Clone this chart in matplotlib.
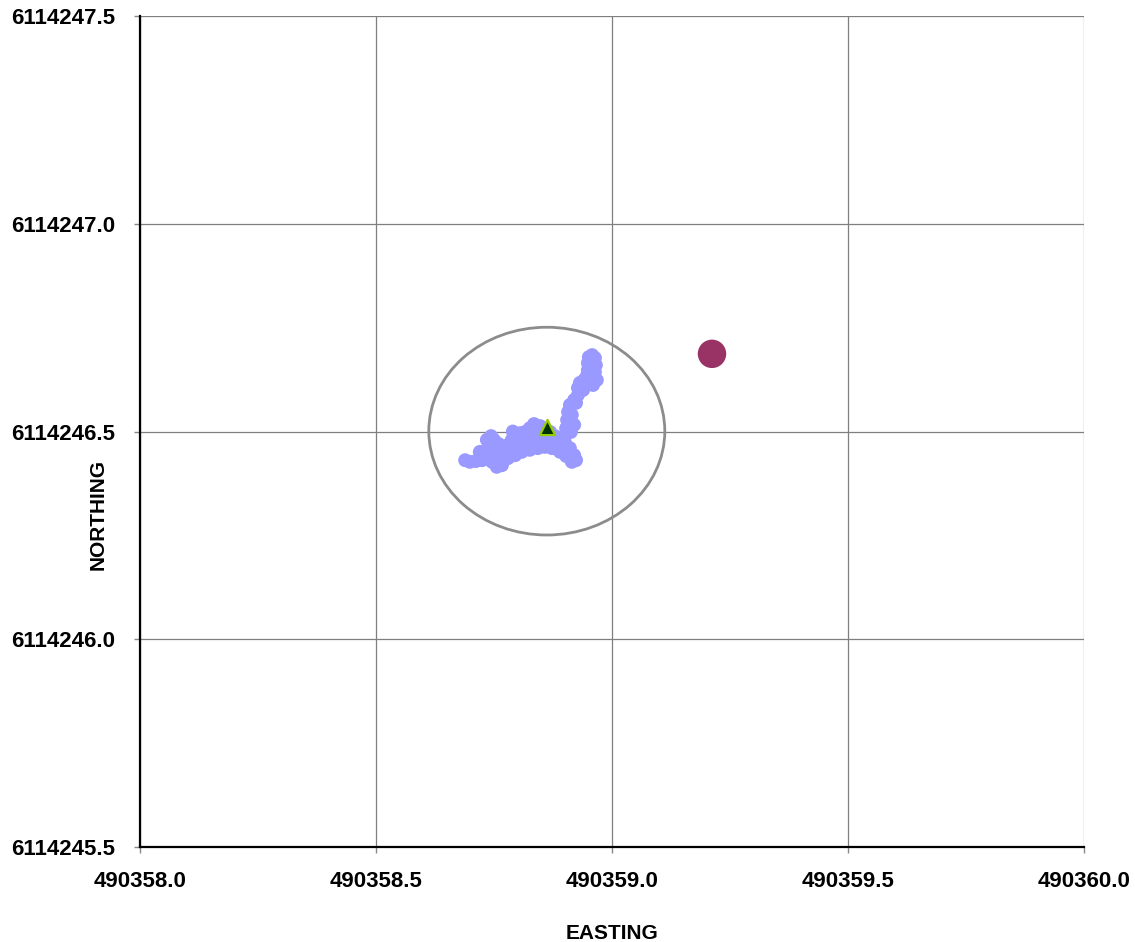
import matplotlib.pyplot as plt
from matplotlib.patches import Circle
from matplotlib.ticker import FormatStrFormatter

plt.rcParams['font.family'] = ['Liberation Sans', 'DejaVu Sans']
plt.rcParams['font.weight'] = 'bold'

# GPS track (easting / northing)
track_e = [
    490358.689, 490358.699, 490358.712, 490358.725, 490358.733, 490358.737,
    490358.735, 490358.744, 490358.750, 490358.754, 490358.759, 490358.763,
    490358.769, 490358.775, 490358.780, 490358.788, 490358.795, 490358.805,
    490358.816, 490358.826, 490358.835, 490358.848, 490358.858, 490358.869,
    490358.879, 490358.890, 490358.900, 490358.911, 490358.920, 490358.924,
    490358.915, 490358.903, 490358.890, 490358.873, 490358.858, 490358.843,
    490358.826, 490358.809, 490358.795, 490358.780, 490358.767, 490358.756,
    490358.746, 490358.737, 490358.731, 490358.720, 490358.801, 490358.822,
    490358.843, 490358.864, 490358.886, 490358.903, 490358.816, 490358.773,
    490358.900, 490358.903, 490358.905, 490358.907, 490358.911, 490358.920,
    490358.928, 490358.928, 490358.932, 490358.941, 490358.947, 490358.949,
    490358.949, 490358.951, 490358.958, 490358.964, 490358.966, 490358.964,
    490358.968, 490358.960, 490358.953, 490358.939, 490358.924, 490358.915,
    490358.920, 490358.913, 490358.790, 490358.810, 490358.830, 490358.850,
    490358.870, 490358.895, 490358.760, 490358.745,
]
track_n = [
    6114246.431, 6114246.427, 6114246.429, 6114246.431, 6114246.441, 6114246.460,
    6114246.480, 6114246.489, 6114246.480, 6114246.460, 6114246.443, 6114246.427,
    6114246.436, 6114246.451, 6114246.468, 6114246.480, 6114246.489, 6114246.496,
    6114246.499, 6114246.508, 6114246.518, 6114246.513, 6114246.504, 6114246.499,
    6114246.489, 6114246.484, 6114246.475, 6114246.460, 6114246.443, 6114246.431,
    6114246.427, 6114246.441, 6114246.451, 6114246.460, 6114246.463, 6114246.460,
    6114246.456, 6114246.451, 6114246.443, 6114246.436, 6114246.419, 6114246.415,
    6114246.427, 6114246.436, 6114246.451, 6114246.451, 6114246.468, 6114246.480,
    6114246.484, 6114246.480, 6114246.468, 6114246.463, 6114246.468, 6114246.463,
    6114246.489, 6114246.508, 6114246.528, 6114246.547, 6114246.564, 6114246.576,
    6114246.588, 6114246.605, 6114246.617, 6114246.624, 6114246.634, 6114246.648,
    6114246.665, 6114246.679, 6114246.684, 6114246.677, 6114246.660, 6114246.643,
    6114246.624, 6114246.612, 6114246.643, 6114246.600, 6114246.569, 6114246.540,
    6114246.516, 6114246.499, 6114246.500, 6114246.492, 6114246.495, 6114246.490,
    6114246.470, 6114246.455, 6114246.470, 6114246.470,
]

mean_e, mean_n = 490358.862, 6114246.511
ref_e, ref_n = 490359.212, 6114246.687
circle_center = (490358.862, 6114246.501)
circle_radius = 0.25

x_ticks = [490358.0, 490358.5, 490359.0, 490359.5, 490360.0]
y_ticks = [6114245.5, 6114246.0, 6114246.5, 6114247.0, 6114247.5]

fig = plt.figure(figsize=(11.35, 9.42), dpi=100)
ax = fig.add_axes([0.1233, 0.1008, 0.8317, 0.8822])

ax.scatter(track_e, track_n, s=100, color='#9999ff', edgecolors='none', zorder=3)
ax.scatter([mean_e], [mean_n], marker='^', s=120, color='#003300',
           edgecolors='#99cc00', linewidths=1.6, zorder=4)
ax.scatter([ref_e], [ref_n], s=420, color='#993366', edgecolors='none', zorder=3)

ax.add_patch(Circle(circle_center, circle_radius, fill=False,
                    edgecolor='#8c8c8c', linewidth=2, zorder=2))

ax.set_xlim(x_ticks[0], x_ticks[-1])
ax.set_ylim(y_ticks[0], y_ticks[-1])
ax.set_xticks(x_ticks)
ax.set_yticks(y_ticks)
ax.xaxis.set_major_formatter(FormatStrFormatter('%.1f'))
ax.yaxis.set_major_formatter(FormatStrFormatter('%.1f'))

ax.grid(True, color='#7f7f7f', linewidth=0.9, zorder=0)
ax.set_axisbelow(True)
for side in ['top', 'right']:
    ax.spines[side].set_visible(False)
for side in ['left', 'bottom']:
    ax.spines[side].set_color('#000000')
    ax.spines[side].set_linewidth(1.6)

ax.tick_params(direction='out', length=4, width=1, color='#888888',
               labelsize=16)
ax.tick_params(axis='y', pad=14)
ax.tick_params(axis='x', pad=13)

ax.set_xlabel('EASTING', fontsize=15, fontweight='bold')
ax.set_ylabel('NORTHING', fontsize=15, fontweight='bold')
ax.xaxis.set_label_coords(0.5, -0.0925)
ax.yaxis.set_label_coords(-0.034, 0.40)

fig.savefig('out.png', dpi=100)
